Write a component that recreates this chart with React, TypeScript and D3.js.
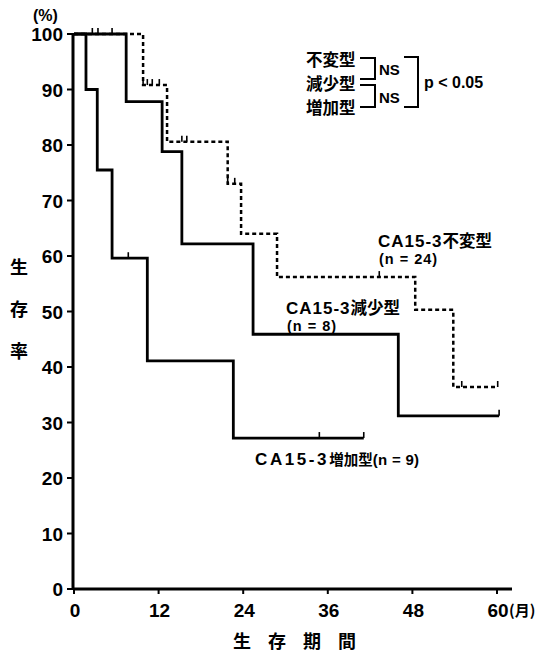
import React from 'react'
import * as d3 from 'd3'

// Kaplan-Meier curves: [month, survival %]
const unchangedSteps = [[0, 100], [9.8, 90.8], [13.2, 80.6], [21.8, 73], [23.7, 64], [28.8, 56.2], [48.4, 50.3], [53.8, 36.4]]
const unchangedEnd = 60.1
const unchangedCensor = [2.6, 3.4, 5.4, 9.8, 10.4, 11.1, 12.1, 15.3, 16.0, 21.8, 22.8, 43.3, 55.0, 60.1]

const decreaseSteps = [[0, 100], [7.4, 87.8], [12.5, 78.8], [15.3, 62.2], [25.4, 45.9], [46.0, 31.2]]
const decreaseEnd = 60.3
const decreaseCensor = [60.3]

const increaseSteps = [[0, 100], [1.7, 90], [3.3, 75.5], [5.4, 59.6], [10.4, 41.1], [22.6, 27.2]]
const increaseEnd = 41.1
const increaseCensor = [7.7, 34.8, 41.1]

const xTicks = [0, 12, 24, 36, 48, 60]
const yTicks = [0, 10, 20, 30, 40, 50, 60, 70, 80, 90, 100]
const groupNames = ['不変型', '減少型', '増加型']

const width = 541
const height = 655
const sans = '"Liberation Sans", Arial, sans-serif'
const cjk = '"Noto Sans CJK JP", sans-serif'

const x = d3.scaleLinear().domain([0, 60]).range([74, 497])
const y = d3.scaleLinear().domain([0, 100]).range([589, 34])

const stepLine = d3
  .line<number[]>()
  .x(d => x(d[0]))
  .y(d => y(d[1]))
  .curve(d3.curveStepAfter)

// survival level at time t for a step curve
const levelAt = (steps: number[][], t: number) => {
  let v = steps[0][1]
  steps.forEach(s => {
    if (s[0] <= t) v = s[1]
  })
  return v
}

const Curve = ({ steps, end, censor, dashed }: { steps: number[][]; end: number; censor: number[]; dashed?: boolean }) => {
  const pts = [...steps, [end, steps[steps.length - 1][1]]]
  return (
    <g>
      <path
        d={stepLine(pts) || ''}
        fill="none"
        stroke="#000"
        strokeWidth={dashed ? 2.5 : 2.8}
        strokeDasharray={dashed ? '4 3' : undefined}
      />
      {censor.map((t, i) => {
        const v = levelAt(steps, t)
        return <line key={i} x1={x(t)} x2={x(t)} y1={y(v)} y2={y(v) - 6} stroke="#000" strokeWidth={1.6} />
      })}
    </g>
  )
}

// curve label: latin part and CJK part set apart, as in the print
const Label = ({ tx, ty, name, n, inline }: { tx: number; ty: number; name: string; n: string; inline?: boolean }) => (
  <g>
    <text x={tx} y={ty} fontWeight="bold">
      <tspan fontFamily={sans} fontSize={17} letterSpacing={inline ? 2.6 : 1}>CA15-3</tspan>
      <tspan fontFamily={cjk} fontSize={inline ? 14.5 : 16.5}>{name}</tspan>
      {inline && <tspan fontFamily={sans} fontSize={15} letterSpacing={0.3}>{n}</tspan>}
    </text>
    {!inline && (
      <text x={tx + 1} y={ty + 17} fontFamily={sans} fontWeight="bold" fontSize={14.5} letterSpacing={1}>
        {n}
      </text>
    )}
  </g>
)

export default function App() {
  return (
    <svg width={width} height={height} style={{ position: 'absolute', left: 0, top: 0, background: '#fff' }}>
      {/* curves: dashed first so the solid ones sit on top */}
      <Curve steps={unchangedSteps} end={unchangedEnd} censor={unchangedCensor} dashed />
      <Curve steps={decreaseSteps} end={decreaseEnd} censor={decreaseCensor} />
      <Curve steps={increaseSteps} end={increaseEnd} censor={increaseCensor} />

      {/* axes */}
      <line x1={x(0) - 1} x2={x(0) - 1} y1={y(100) - 1} y2={y(0) + 1} stroke="#000" strokeWidth={3} />
      <line x1={x(0) - 1} x2={512} y1={y(0)} y2={y(0)} stroke="#000" strokeWidth={3} />
      {yTicks.map(t => (
        <g key={t}>
          <line x1={x(0) - 7} x2={x(0)} y1={y(t)} y2={y(t)} stroke="#000" strokeWidth={2} />
          <text x={x(0) - 11} y={y(t) + 7} textAnchor="end" fontFamily={sans} fontWeight="bold" fontSize={19}>
            {t}
          </text>
        </g>
      ))}
      {xTicks.map(t => (
        <g key={t}>
          <line x1={x(t)} x2={x(t)} y1={y(0)} y2={y(0) + 5} stroke="#000" strokeWidth={2} />
          <text x={x(t) + 1} y={617} textAnchor="middle" fontFamily={sans} fontWeight="bold" fontSize={19}>
            {t}
          </text>
        </g>
      ))}
      <text x={509} y={616} fontFamily={cjk} fontWeight="bold" fontSize={15}>(月)</text>
      <text x={33} y={21} fontFamily={sans} fontWeight="bold" fontSize={16}>(%)</text>

      {/* axis titles */}
      {['生', '存', '率'].map((c, i) => (
        <text key={c} x={19} y={274 + i * 42} textAnchor="middle" fontFamily={cjk} fontWeight="bold" fontSize={18}>
          {c}
        </text>
      ))}
      {['生', '存', '期', '間'].map((c, i) => (
        <text key={c} x={242 + i * 35} y={648} textAnchor="middle" fontFamily={cjk} fontWeight="bold" fontSize={18}>
          {c}
        </text>
      ))}

      {/* legend with significance brackets */}
      {groupNames.map((g, i) => (
        <text key={g} x={306} y={66 + i * 24} fontFamily={cjk} fontWeight="bold" fontSize={16.5}>
          {g}
        </text>
      ))}
      <path d="M360,58 H375 V79 H360" fill="none" stroke="#000" strokeWidth={2} />
      <path d="M360,85 H375 V107 H360" fill="none" stroke="#000" strokeWidth={2} />
      <path d="M404,57 H418 V107 H404" fill="none" stroke="#000" strokeWidth={2} />
      <text x={379} y={75} fontFamily={sans} fontWeight="bold" fontSize={15}>NS</text>
      <text x={379} y={103} fontFamily={sans} fontWeight="bold" fontSize={15}>NS</text>
      <text x={424} y={88} fontFamily={sans} fontWeight="bold" fontSize={16}>p &lt; 0.05</text>

      {/* curve labels */}
      <Label tx={378} ty={247} name="不変型" n="(n = 24)" />
      <Label tx={286} ty={314} name="減少型" n="(n = 8)" />
      <Label tx={255} ty={465} name="増加型" n="(n = 9)" inline />
    </svg>
  )
}
